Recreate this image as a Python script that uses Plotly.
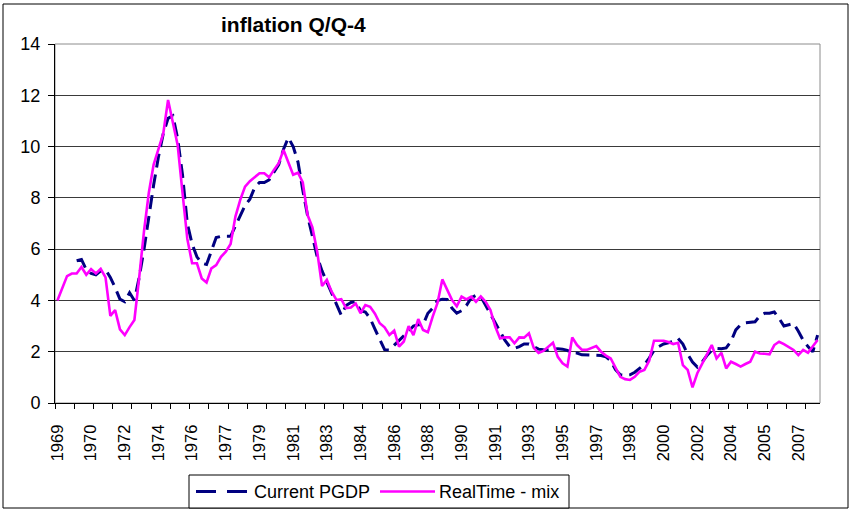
import plotly.graph_objects as go

# ---- data (quarterly, 1969Q1 .. 2008Q3) ----
n_quarters = 159
tick_positions = [0, 7, 14, 21, 28, 35, 42, 49, 56, 63, 70, 77, 84, 91, 98, 105, 112, 119, 126, 133, 140, 147, 154]
tick_labels = ["1969", "1970", "1972", "1974", "1976", "1977", "1979", "1981", "1983", "1984", "1986",
               "1988", "1990", "1991", "1993", "1995", "1997", "1998", "2000", "2002", "2004", "2005", "2007"]

current_pgdp = [None, None, None, None,
    5.55, 5.6, 5.2, 5.05, 5.0, 5.15, 5.2, 4.9, 4.5, 4.05, 3.95, 4.3, 4.0, 4.9, 6.0, 7.3,
    8.5, 9.6, 10.5, 11.1, 11.2, 10.3, 8.9, 7.0, 6.2, 5.7, 5.45, 5.4, 5.95, 6.45, 6.5, 6.5,
    6.5, 6.9, 7.3, 7.7, 7.95, 8.4, 8.6, 8.6, 8.7, 9.0, 9.3, 9.9, 10.35, 10.0, 9.4, 8.3,
    7.3, 6.5, 5.7, 5.15, 4.7, 4.3, 3.8, 3.42, 3.8, 3.92, 3.95, 3.6, 3.55, 3.3, 2.88, 2.5,
    2.08, 2.07, 2.25, 2.4, 2.6, 2.8, 3.0, 3.05, 3.05, 3.5, 3.7, 4.0, 4.05, 4.04, 3.7, 3.5,
    3.6, 3.8, 4.1, 4.2, 4.15, 3.8, 3.5, 3.1, 2.75, 2.45, 2.2, 2.13, 2.2, 2.3, 2.3, 2.2,
    2.1, 2.08, 2.07, 2.1, 2.12, 2.1, 2.05, 1.95, 1.95, 1.88, 1.87, 1.87, 1.85, 1.85, 1.8, 1.65,
    1.3, 1.1, 1.08, 1.1, 1.2, 1.35, 1.5, 1.75, 2.05, 2.2, 2.3, 2.35, 2.4, 2.52, 2.3, 1.9,
    1.6, 1.4, 1.6, 1.85, 2.05, 2.13, 2.12, 2.15, 2.4, 2.85, 3.05, 3.13, 3.15, 3.17, 3.4, 3.5,
    3.5, 3.55, 3.3, 3.0, 3.05, 3.1, 2.8, 2.45, 2.2, 2.0, 2.65]

realtime_mix = [
    4.0, 4.5, 4.95, 5.05, 5.05, 5.3, 5.0, 5.22, 5.05, 5.23, 4.9, 3.4, 3.62, 2.87, 2.65, 2.96,
    3.24, 4.9, 6.7, 8.2, 9.3, 9.9, 10.5, 11.82, 10.9, 10.05, 8.2, 6.4, 5.45, 5.45, 4.86, 4.7,
    5.25, 5.38, 5.7, 5.9, 6.2, 7.27, 7.92, 8.44, 8.65, 8.8, 8.96, 8.96, 8.8, 9.09, 9.35, 9.87,
    9.4, 8.9, 8.98, 8.6, 7.33, 6.85, 5.9, 4.56, 4.8, 4.34, 4.02, 4.05, 3.7, 3.72, 3.88, 3.5,
    3.82, 3.75, 3.48, 3.11, 2.95, 2.65, 2.82, 2.2, 2.4, 3.0, 2.65, 3.27, 2.85, 2.76, 3.37, 3.9,
    4.82, 4.45, 4.02, 3.77, 4.15, 4.04, 4.15, 3.95, 4.16, 3.95, 3.63, 2.98, 2.52, 2.56, 2.56, 2.33,
    2.56, 2.55, 2.72, 2.15, 1.95, 2.03, 2.2, 2.35, 1.8, 1.55, 1.42, 2.56, 2.26, 2.08, 2.07, 2.15,
    2.22, 2.0, 1.85, 1.74, 1.4, 1.02, 0.93, 0.9, 1.02, 1.22, 1.29, 1.65, 2.43, 2.43, 2.43, 2.38,
    2.3, 2.35, 1.48, 1.29, 0.61, 1.16, 1.54, 1.91, 2.26, 1.74, 1.96, 1.35, 1.61, 1.52, 1.42, 1.52,
    1.61, 2.0, 1.93, 1.92, 1.9, 2.26, 2.39, 2.3, 2.2, 2.07, 1.87, 2.07, 1.96, 2.2, 2.46]

series_names = ["Current PGDP", "RealTime - mix"]
y_ticks = [0, 2, 4, 6, 8, 10, 12, 14]

x_idx = list(range(n_quarters))

# ---- layout geometry ----
W, H = 851, 510
ML, MR, MT, MB = 55, 31, 44, 107
PW, PH = W - ML - MR, H - MT - MB

def px(xp):
    return (xp - ML) / PW

def py(yp):
    return (H - MB - yp) / PH

FONT = "Liberation Sans, Arial, sans-serif"
NAVY = "#000080"
MAGENTA = "#FF00FF"
NAVY_DASH = "14px,7px"

fig = go.Figure()
fig.add_trace(go.Scatter(x=x_idx, y=current_pgdp, mode="lines", name=series_names[0],
                         line=dict(color=NAVY, width=3, dash=NAVY_DASH), hoverinfo="skip"))
fig.add_trace(go.Scatter(x=x_idx, y=realtime_mix, mode="lines", name=series_names[1],
                         line=dict(color=MAGENTA, width=2.6), hoverinfo="skip"))

# manual legend (box, samples, labels)
leg_y = 491.5
shapes = [
    dict(type="rect", xref="paper", yref="paper", x0=0, x1=1, y0=0, y1=1,
         line=dict(color="#8c8c8c", width=1), layer="below"),
    dict(type="rect", xref="paper", yref="paper", x0=px(3), x1=px(848), y0=py(508), y1=py(4),
         line=dict(color="black", width=1), layer="below"),
    dict(type="rect", xref="paper", yref="paper", x0=px(189), x1=px(569), y0=py(508), y1=py(475),
         line=dict(color="black", width=1), fillcolor="white"),
    dict(type="line", xref="paper", yref="paper", x0=px(196), x1=px(248), y0=py(leg_y), y1=py(leg_y),
         line=dict(color=NAVY, width=3, dash="20px,11px")),
    dict(type="line", xref="paper", yref="paper", x0=px(380), x1=px(435), y0=py(leg_y), y1=py(leg_y),
         line=dict(color=MAGENTA, width=2.6)),
]
annotations = [
    dict(text="<b>inflation Q/Q-4</b>", x=px(293), y=py(25), xref="paper", yref="paper",
         xanchor="center", yanchor="middle", showarrow=False,
         font=dict(size=21, family=FONT, color="black")),
    dict(text=series_names[0], x=px(252), y=py(leg_y), xref="paper", yref="paper",
         xanchor="left", yanchor="middle", showarrow=False,
         font=dict(size=18, family=FONT, color="black")),
    dict(text=series_names[1], x=px(437), y=py(leg_y), xref="paper", yref="paper",
         xanchor="left", yanchor="middle", showarrow=False,
         font=dict(size=18, family=FONT, color="black")),
]

fig.update_layout(
    width=W, height=H,
    margin=dict(l=ML, r=MR, t=MT, b=MB, pad=0, autoexpand=False),
    paper_bgcolor="white", plot_bgcolor="white",
    font=dict(family=FONT, color="black"),
    showlegend=False,
    hovermode=False,
    annotations=annotations,
    shapes=shapes,
)

fig.update_xaxes(
    range=[-0.5, n_quarters - 0.5], automargin=False,
    tickmode="array", tickvals=tick_positions, ticktext=tick_labels,
    tickangle=-90, ticks="", tickfont=dict(size=16.5, family=FONT, color="black"),
    ticklabelstandoff=14,
    showgrid=False, zeroline=False,
    showline=True, linecolor="black", linewidth=1,
    minor=dict(tickmode="array", tickvals=[k - 0.5 for k in range(0, n_quarters, 4)],
               ticks="outside", ticklen=5, tickcolor="black", tickwidth=1, showgrid=False),
)
fig.update_yaxes(
    range=[0, 14], tickmode="array", tickvals=y_ticks, automargin=False,
    ticks="outside", ticklen=6, tickcolor="black",
    tickfont=dict(size=18, family=FONT, color="black"),
    ticklabelstandoff=4,
    showgrid=True, gridcolor="#3a3a3a", gridwidth=1,
    zeroline=False, showline=True, linecolor="black", linewidth=1,
)

fig.write_html("out.html", config={"displayModeBar": False, "staticPlot": True},
               post_script="document.body.style.margin='0px';document.body.style.overflow='hidden';")
